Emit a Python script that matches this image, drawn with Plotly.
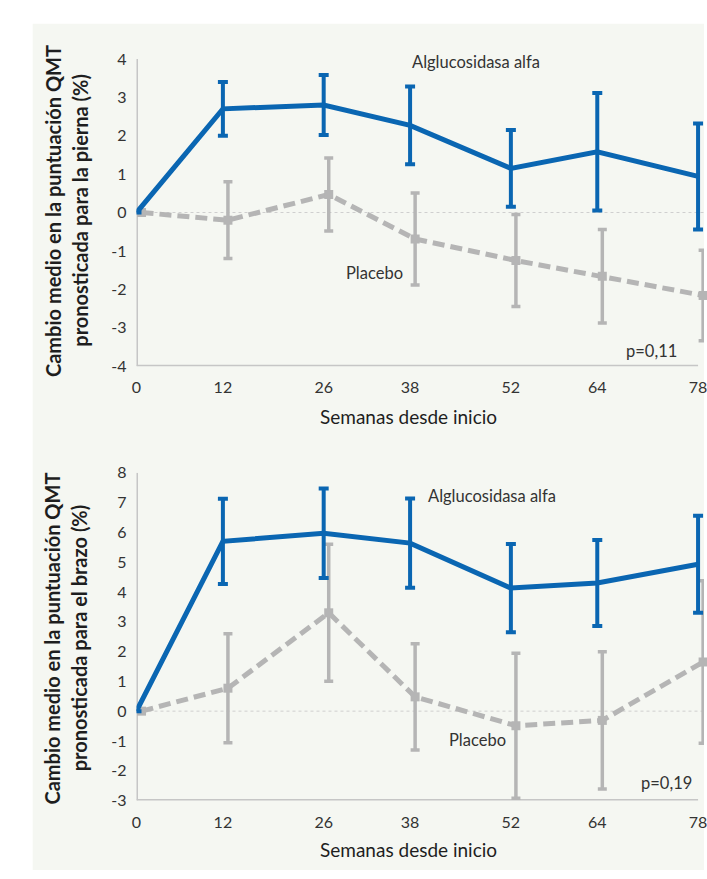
import plotly.graph_objects as go

# Semanas desde inicio
weeks = [0, 12, 26, 38, 52, 64, 78]
week_ticks = ["0", "12", "26", "38", "52", "64", "78"]

# Pierna (leg): mean change and error
leg_alglu = [0, 2.7, 2.8, 2.27, 1.15, 1.58, 0.94]
leg_alglu_err = [0, 0.7, 0.78, 1.01, 1.0, 1.53, 1.38]
leg_placebo = [0, -0.2, 0.47, -0.69, -1.25, -1.66, -2.16]
leg_placebo_err = [0, 1.0, 0.95, 1.2, 1.2, 1.22, 1.18]
leg_yticks = [-4, -3, -2, -1, 0, 1, 2, 3, 4]

# Brazo (arm): mean change and error
arm_alglu = [0, 5.7, 5.97, 5.64, 4.13, 4.3, 4.93]
arm_alglu_err = [0, 1.43, 1.5, 1.5, 1.48, 1.44, 1.63]
arm_placebo = [0, 0.77, 3.3, 0.48, -0.49, -0.31, 1.65]
arm_placebo_err = [0, 1.83, 2.3, 1.78, 2.43, 2.3, 2.73]
arm_yticks = [-3, -2, -1, 0, 1, 2, 3, 4, 5, 6, 7, 8]

W, H = 707, 879
BLUE = "#0a66b2"
GREY = "#b5b5b5"
AXIS = "#c6c6c6"
PANEL = "#f5f7f2"
FONT = "Lato"
PLACEBO_DODGE = 0.7  # small horizontal shift so the two series' bars don't overlap

X0_PX = 133          # x pixel of week 0
X78_PX = 701         # x pixel of week 78
XMAX = (W - X0_PX) / ((X78_PX - X0_PX) / 78)


def px_x(p):
    return p / W


def px_y(p):
    return 1 - p / H


fig = go.Figure()

panels = [
    dict(xa="x", ya="y", alglu=leg_alglu, alglu_err=leg_alglu_err,
         plac=leg_placebo, plac_err=leg_placebo_err, yticks=leg_yticks,
         dom=(364, 50)),
    dict(xa="x2", ya="y2", alglu=arm_alglu, alglu_err=arm_alglu_err,
         plac=arm_placebo, plac_err=arm_placebo_err, yticks=arm_yticks,
         dom=(808, 473)),
]

for p in panels:
    fig.add_trace(go.Scatter(
        x=[w + PLACEBO_DODGE for w in weeks], y=p["plac"], xaxis=p["xa"], yaxis=p["ya"],
        mode="lines+markers",
        line=dict(color=GREY, width=5, dash="12px,6px"),
        marker=dict(symbol="square", size=9, color=GREY),
        error_y=dict(type="data", array=p["plac_err"], color=GREY, thickness=3.5, width=4.5),
        cliponaxis=False, showlegend=False,
    ))
    fig.add_trace(go.Scatter(
        x=weeks, y=p["alglu"], xaxis=p["xa"], yaxis=p["ya"],
        mode="lines",
        line=dict(color=BLUE, width=5),
        error_y=dict(type="data", array=p["alglu_err"], color=BLUE, thickness=4, width=5),
        cliponaxis=False, showlegend=False,
    ))

axis_common = dict(showgrid=False, zeroline=False, showline=False, ticks="",
                   ticklabeloverflow="allow",
                   tickfont=dict(family=FONT, size=16, color="#333333"))

layout = dict(
    width=W, height=H, margin=dict(l=0, r=0, t=0, b=0),
    paper_bgcolor="white", plot_bgcolor="rgba(0,0,0,0)",
    font=dict(family=FONT, color="#222222"),
)
for i, p in enumerate(panels):
    sfx = "" if i == 0 else "2"
    lo, hi = p["yticks"][0], p["yticks"][-1]
    layout["xaxis" + sfx] = dict(
        axis_common, domain=[px_x(X0_PX), 1], range=[0, XMAX],
        tickvals=weeks, ticktext=week_ticks, ticklabelstandoff=10,
        anchor="y" + sfx,
    )
    layout["yaxis" + sfx] = dict(
        axis_common, domain=[px_y(p["dom"][0]), px_y(p["dom"][1])], range=[lo, hi],
        tickvals=p["yticks"], ticktext=[str(v) for v in p["yticks"]],
        ticklabelstandoff=9, anchor="x" + sfx,
    )
fig.update_layout(**layout)

shapes = [dict(type="rect", xref="paper", yref="paper", x0=px_x(28), x1=1,
               y0=0, y1=px_y(14), fillcolor=PANEL, line=dict(width=0), layer="below")]
for i, p in enumerate(panels):
    xr, yr = p["xa"], p["ya"]
    lo, hi = p["yticks"][0], p["yticks"][-1]
    shapes += [
        dict(type="line", xref=xr, yref=yr, x0=0, x1=XMAX, y0=0, y1=0,
             line=dict(color="#cfcfcf", width=1, dash="dot"), layer="below"),
        dict(type="line", xref=xr, yref=yr, x0=0, x1=0, y0=lo, y1=hi,
             line=dict(color=AXIS, width=3), layer="below"),
        dict(type="line", xref=xr, yref=yr, x0=0, x1=weeks[-1], y0=lo, y1=lo,
             line=dict(color=AXIS, width=3), layer="below"),
    ]
fig.update_layout(shapes=shapes)


def label(text, x, y, size=16.5, color="#333333", angle=0):
    fig.add_annotation(text=text, xref="paper", yref="paper", x=px_x(x), y=px_y(y),
                       xanchor="center", yanchor="middle", showarrow=False,
                       textangle=angle, font=dict(family=FONT, size=size, color=color))


TITLE = 19
YTITLE = 20
# Leg panel labels
label("Alglucosidasa alfa", 476, 53)
label("Placebo", 374, 269)
label("p=0,11", 654, 349)
label("Semanas desde inicio", 408, 415, size=TITLE, color="#1e1e1e")
label("<b>Cambio medio en la puntuación QMT</b>", 48, 205, size=YTITLE, color="#1e1e1e", angle=-90)
label("<b>pronosticada para la pierna (%)</b>", 75, 205, size=YTITLE, color="#1e1e1e", angle=-90)

# Arm panel labels
label("Alglucosidasa alfa", 493, 497)
label("Placebo", 478, 746)
label("p=0,19", 669, 790)
label("Semanas desde inicio", 408, 858, size=TITLE, color="#1e1e1e")
label("<b>Cambio medio en la puntuación QMT</b>", 48, 642, size=YTITLE, color="#1e1e1e", angle=-90)
label("<b>pronosticada para el brazo (%)</b>", 75, 642, size=YTITLE, color="#1e1e1e", angle=-90)

fig.write_html("out.html")
